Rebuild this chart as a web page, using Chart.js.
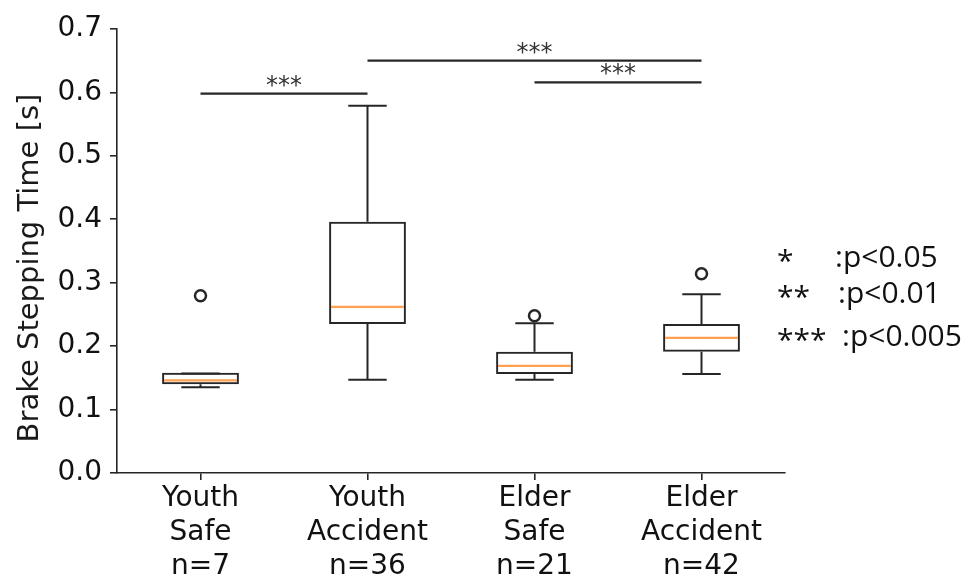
<!DOCTYPE html>
<html>
<head>
<meta charset="utf-8">
<script src="https://cdn.jsdelivr.net/npm/chart.js@4.4.1/dist/chart.umd.min.js"></script>
<style>
  html, body { margin: 0; padding: 0; background: #fff; }
  canvas { display: block; }
</style>
</head>
<body>
<canvas id="chart" width="971" height="581"></canvas>
<script>
// Group labels (one line per array entry)
const categories = [
  ['Youth', 'Safe', 'n=7'],
  ['Youth', 'Accident', 'n=36'],
  ['Elder', 'Safe', 'n=21'],
  ['Elder', 'Accident', 'n=42']
];

// Box-plot statistics per group [s]
const lowerWhisker = [0.135, 0.147, 0.147, 0.156];
const q1Values     = [0.140, 0.235, 0.156, 0.191];
const medianValues = [0.146, 0.262, 0.169, 0.213];
const q3Values     = [0.158, 0.396, 0.191, 0.235];
const upperWhisker = [0.157, 0.579, 0.236, 0.282];
const outlierValues = [0.2795, null, 0.248, 0.314];

// Y-axis tick values
const yTicks = [0.0, 0.1, 0.2, 0.3, 0.4, 0.5, 0.6, 0.7];

// Significance brackets: group index pairs, bracket height, label
const sigFrom   = [0, 1, 2];
const sigTo     = [1, 3, 3];
const sigHeight = [0.598, 0.650, 0.616];
const sigLabel  = ['***', '***', '***'];

// Significance key shown to the right of the axes
const keyStars = ['*', '**', '***'];
const keyText  = [':p<0.05', ':p<0.01', ':p<0.005'];

const INK = '#262626';
const MEDIAN = '#ffa050';

const boxData = q1Values.map((q1, i) => [q1, q3Values[i]]);

// Whiskers, caps and medians drawn on top of the floating bars
const boxPlugin = {
  id: 'boxWhiskers',
  afterDatasetsDraw(chart) {
    const { ctx, scales: { x, y } } = chart;
    const bars = chart.getDatasetMeta(0).data;
    ctx.save();
    ctx.lineCap = 'butt';
    bars.forEach((bar, i) => {
      const cx = x.getPixelForValue(i);
      const half = bar.width / 2;
      const cap = bar.width / 4;
      const yQ1 = y.getPixelForValue(q1Values[i]);
      const yQ3 = y.getPixelForValue(q3Values[i]);
      const yLo = y.getPixelForValue(lowerWhisker[i]);
      const yHi = y.getPixelForValue(upperWhisker[i]);
      const yMed = y.getPixelForValue(medianValues[i]);

      ctx.strokeStyle = INK;
      ctx.lineWidth = 2;
      ctx.beginPath();
      // whisker stems
      ctx.moveTo(cx, yQ1); ctx.lineTo(cx, yLo);
      ctx.moveTo(cx, yQ3); ctx.lineTo(cx, yHi);
      // caps
      ctx.moveTo(cx - cap, yLo); ctx.lineTo(cx + cap, yLo);
      ctx.moveTo(cx - cap, yHi); ctx.lineTo(cx + cap, yHi);
      ctx.stroke();

      // median
      ctx.strokeStyle = MEDIAN;
      ctx.lineWidth = 2.2;
      ctx.beginPath();
      ctx.moveTo(cx - half + 2, yMed);
      ctx.lineTo(cx + half - 2, yMed);
      ctx.stroke();
    });
    ctx.restore();
  }
};

// Significance bars with star labels
const sigPlugin = {
  id: 'sigBrackets',
  afterDatasetsDraw(chart) {
    const { ctx, scales: { x, y } } = chart;
    ctx.save();
    sigFrom.forEach((from, k) => {
      const x0 = x.getPixelForValue(from);
      const x1 = x.getPixelForValue(sigTo[k]);
      const yy = y.getPixelForValue(sigHeight[k]);
      ctx.fillStyle = '#333';
      ctx.font = '24px "DejaVu Sans"';
      ctx.textAlign = 'center';
      ctx.textBaseline = 'alphabetic';
      ctx.fillText(sigLabel[k], (x0 + x1) / 2, yy - 1);
    });
    sigFrom.forEach((from, k) => {
      const x0 = x.getPixelForValue(from);
      const x1 = x.getPixelForValue(sigTo[k]);
      const yy = y.getPixelForValue(sigHeight[k]);
      ctx.strokeStyle = INK;
      ctx.lineWidth = 2.2;
      ctx.beginPath();
      ctx.moveTo(x0, yy);
      ctx.lineTo(x1, yy);
      ctx.stroke();
    });
    ctx.restore();
  }
};

// Axis title and significance key
const textPlugin = {
  id: 'sideTexts',
  afterDraw(chart) {
    const { ctx, chartArea } = chart;
    ctx.save();
    ctx.fillStyle = '#1a1a1a';
    // vertical axis title
    ctx.font = '29px "DejaVu Sans"';
    ctx.translate(38, 268);
    ctx.rotate(-Math.PI / 2);
    ctx.textAlign = 'center';
    ctx.textBaseline = 'alphabetic';
    ctx.fillText('Brake Stepping Time [s]', 0, 0);
    ctx.restore();

    ctx.save();
    ctx.fillStyle = '#111';
    ctx.font = '30px "Open Sans"';
    ctx.textAlign = 'left';
    ctx.textBaseline = 'alphabetic';
    const baseX = chartArea.right;
    const rows = [267, 303, 346];
    const colon = [50, 53, 57];
    keyStars.forEach((s, i) => {
      ctx.fillText(s, baseX - 8, rows[i] + 4);
      ctx.fillText(keyText[i], baseX + colon[i], rows[i]);
    });
    ctx.restore();
  }
};

new Chart(document.getElementById('chart'), {
  type: 'bar',
  data: {
    labels: categories,
    datasets: [
      {
        type: 'bar',
        data: boxData,
        backgroundColor: 'rgba(255,255,255,0)',
        borderColor: INK,
        borderWidth: 2,
        borderSkipped: false,
        categoryPercentage: 1.0,
        barPercentage: 0.46,
        order: 2
      },
      {
        type: 'line',
        data: outlierValues,
        showLine: false,
        pointStyle: 'circle',
        pointRadius: 5.5,
        pointBorderWidth: 2.5,
        pointBorderColor: INK,
        pointBackgroundColor: 'rgba(255,255,255,0)',
        order: 1
      }
    ]
  },
  options: {
    responsive: false,
    animation: false,
    layout: { padding: { left: 0, right: 186, top: 29, bottom: 0 } },
    plugins: {
      legend: { display: false },
      tooltip: { enabled: false },
      title: { display: false }
    },
    scales: {
      x: {
        offset: true,
        grid: {
          offset: false,
          drawOnChartArea: false,
          drawTicks: true,
          tickLength: 7,
          color: INK,
          lineWidth: 1.6
        },
        border: { display: true, color: INK, width: 1.6 },
        ticks: {
          color: '#111',
          padding: 2,
          maxRotation: 0,
          autoSkip: false,
          font: { family: 'DejaVu Sans', size: 28, lineHeight: 1.21 }
        },
        afterFit(scale) { scale.height = 581 - 473; }
      },
      y: {
        min: 0,
        max: 0.7,
        afterBuildTicks(scale) { scale.ticks = yTicks.map(v => ({ value: v })); },
        grid: {
          drawOnChartArea: false,
          drawTicks: true,
          tickLength: 7,
          color: INK,
          lineWidth: 1.6
        },
        border: { display: true, color: INK, width: 1.6 },
        ticks: {
          color: '#111',
          padding: 8,
          font: { family: 'DejaVu Sans', size: 28 },
          callback: (v) => Number(v).toFixed(1)
        },
        afterFit(scale) { scale.width = 117; }
      }
    }
  },
  plugins: [boxPlugin, sigPlugin, textPlugin]
});
</script>
</body>
</html>
